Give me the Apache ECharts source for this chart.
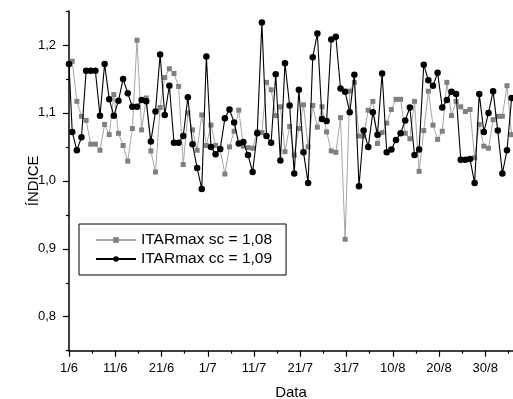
<!DOCTYPE html>
<html>
<head>
<meta charset="utf-8">
<script src="https://cdn.jsdelivr.net/npm/echarts@6/dist/echarts.min.js"></script>
<style>html,body{margin:0;padding:0;background:#fff}#c{width:513px;height:399px}</style>
</head>
<body>
<div id="c"></div>
<script>
// Tick labels (days counted from 1/6)
const tickDays = [0, 10, 20, 30, 40, 50, 60, 70, 80, 90];
const tickLabels = ['1/6', '11/6', '21/6', '1/7', '11/7', '21/7', '31/7', '10/8', '20/8', '30/8'];
const yTicks = [0.8, 0.9, 1.0, 1.1, 1.2];
const yMinorTicks = [0.75, 0.85, 0.95, 1.05, 1.15, 1.25];
const xMinorTicks = [5, 15, 25, 35, 45, 55, 65, 75, 85, 95];

const serieSCNome = 'ITARmax sc = 1,08';
const serieCCNome = 'ITARmax cc = 1,09';

// Day positions of daily readings
const primeiroDiaCC = 0;
const dias = [];
for (let k = 0; k < 96; k++) dias.push(k + 0.7);

const valoresSC = [
 1.176, 1.117, 1.095, 1.089, 1.054, 1.054, 1.045, 1.083, 1.068, 1.127,
 1.070, 1.052, 1.029, 1.077, 1.207, 1.075, 1.122, 1.044, 1.013, 1.108,
 1.152, 1.165, 1.158, 1.139, 1.024, 1.100, 1.075, 1.045, 1.097, 1.052,
 1.082, 1.052, 1.046, 1.010, 1.050, 1.073, 1.104, 1.051, 1.049, 1.048,
 1.072, 1.071, 1.145, 1.134, 1.096, 1.109, 1.043, 1.080, 1.038, 1.077,
 1.112, 1.050, 1.111, 1.079, 1.109, 1.072, 1.044, 1.042, 1.093, 0.914,
 1.132, 1.145, 1.066, 1.066, 1.104, 1.117, 1.055, 1.071, 1.085, 1.105,
 1.120, 1.120, 1.070, 1.062, 1.117, 1.014, 1.074, 1.132, 1.082, 1.061,
 1.073, 1.145, 1.096, 1.117, 1.109, 1.102, 1.105, 1.034, 1.083, 1.051,
 1.048, 1.090, 1.095, 1.095, 1.140, 1.068
];

const valorInicialCC = 1.172;
const valoresCC = [
 1.072, 1.045, 1.064, 1.162, 1.162, 1.162, 1.096, 1.172, 1.120, 1.096,
 1.118, 1.150, 1.129, 1.109, 1.109, 1.119, 1.117, 1.058, 1.102, 1.186,
 1.097, 1.140, 1.056, 1.056, 1.066, 1.123, 1.054, 1.019, 0.988, 1.183,
 1.050, 1.039, 1.047, 1.092, 1.105, 1.086, 1.055, 1.057, 1.038, 1.013,
 1.070, 1.233, 1.066, 1.056, 1.157, 1.030, 1.173, 1.111, 1.011, 1.134,
 1.042, 0.997, 1.182, 1.217, 1.091, 1.088, 1.208, 1.212, 1.136, 1.131,
 1.101, 1.156, 0.992, 1.074, 1.050, 1.101, 1.068, 1.158, 1.042, 1.046,
 1.060, 1.070, 1.089, 1.108, 1.038, 1.046, 1.171, 1.148, 1.140, 1.159,
 1.108, 1.119, 1.131, 1.128, 1.031, 1.031, 1.032, 0.997, 1.128, 1.072,
 1.100, 1.132, 1.074, 1.011, 1.045, 1.122
];

const dadosSC = dias.map((d, i) => [d, valoresSC[i]]);
const dadosCC = [[primeiroDiaCC, valorInicialCC]].concat(dias.map((d, i) => [d, valoresCC[i]]));

const FONT = 'Liberation Sans, Arial, sans-serif';
const fmtComma = v => (Math.round(v * 10) / 10).toFixed(1).replace('.', ',');

const chart = echarts.init(document.getElementById('c'), null, {renderer: 'canvas'});
chart.setOption({
  backgroundColor: '#ffffff',
  animation: false,
  grid: {left: 69, right: 0, top: 11, bottom: 48.3, containLabel: false, outerBoundsMode: 'none'},
  legend: {
    orient: 'vertical',
    left: 79, top: 224,
    padding: [8, 14, 8, 16],
    itemWidth: 40, itemHeight: 7, itemGap: 3,
    borderColor: '#000', borderWidth: 1,
    textStyle: {fontFamily: FONT, fontSize: 15.5, color: '#000'},
    data: [serieSCNome, serieCCNome]
  },
  xAxis: [{
    type: 'value', min: 0, max: 96,
    axisLine: {show: true, lineStyle: {color: '#000', width: 1.5}},
    axisTick: {show: true, inside: false, length: 6, lineStyle: {color: '#000', width: 1.2}, customValues: tickDays},
    minorTick: {show: false},
    splitLine: {show: false},
    axisLabel: {
      customValues: tickDays,
      formatter: v => { const i = tickDays.indexOf(v); return i >= 0 ? tickLabels[i] : ''; },
      fontFamily: FONT, fontSize: 13, color: '#000', margin: 11
    },
    name: 'Data', nameLocation: 'middle', nameGap: 35, nameMoveOverlap: false,
    nameTextStyle: {fontFamily: FONT, fontSize: 15, color: '#000'}
  }, {
    type: 'value', min: 0, max: 96, position: 'bottom',
    axisLine: {show: false},
    axisTick: {show: true, inside: false, length: 3, lineStyle: {color: '#000', width: 1.2}, customValues: xMinorTicks},
    axisLabel: {show: false},
    splitLine: {show: false}
  }],
  yAxis: [{
    type: 'value', min: 0.75, max: 1.25, interval: 0.05,
    axisLine: {show: true, lineStyle: {color: '#000', width: 1.5}},
    axisTick: {show: true, inside: false, length: 6, lineStyle: {color: '#000', width: 1.2}, customValues: yTicks},
    splitLine: {show: false},
    axisLabel: {
      customValues: yTicks,
      formatter: fmtComma,
      fontFamily: FONT, fontSize: 13, color: '#000', margin: 13
    },
    name: 'ÍNDICE', nameLocation: 'middle', nameGap: 28, nameRotate: 90, nameMoveOverlap: false,
    nameTextStyle: {fontFamily: FONT, fontSize: 15, color: '#000'}
  }, {
    type: 'value', min: 0.75, max: 1.25, interval: 0.05, position: 'left',
    axisLine: {show: false},
    axisTick: {show: true, inside: false, length: 3, lineStyle: {color: '#000', width: 1.2}, customValues: yMinorTicks},
    axisLabel: {show: false},
    splitLine: {show: false}
  }],
  series: [{
    name: serieSCNome, type: 'line', xAxisIndex: 0, yAxisIndex: 0,
    data: dadosSC,
    symbol: 'rect', symbolSize: 5,
    itemStyle: {color: '#808080'},
    lineStyle: {color: '#a6a6a6', width: 1},
    z: 2
  }, {
    name: serieCCNome, type: 'line', xAxisIndex: 0, yAxisIndex: 0,
    data: dadosCC,
    symbol: 'circle', symbolSize: 6.5,
    itemStyle: {color: '#000'},
    lineStyle: {color: '#000', width: 1.1},
    z: 3
  }]
});
</script>
</body>
</html>
